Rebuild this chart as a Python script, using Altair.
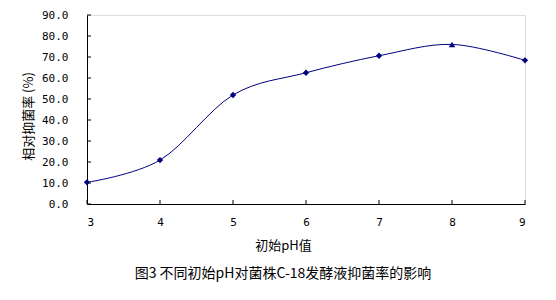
import altair as alt
import pandas as pd

ph = [3, 4, 5, 6, 7, 8, 9]
rate = [10.3, 20.9, 51.9, 62.5, 70.6, 76.0, 68.4]
y_ticks = [0, 10, 20, 30, 40, 50, 60, 70, 80, 90]
x_ticks = [3, 4, 5, 6, 7, 8, 9]

df = pd.DataFrame({"pH": ph, "rate": rate})
ydf = pd.DataFrame({"v": y_ticks})
xdf = pd.DataFrame({"v": x_ticks})

W, H = 438, 189
COLOR = "#000080"
CJK = "Noto Sans CJK SC"
NUM = "DejaVu Sans Mono"

xscale = alt.Scale(domain=[3, 9], nice=False, zero=False)
yscale = alt.Scale(domain=[0, 90], nice=False)

xaxis = alt.Axis(values=x_ticks, format="d", tickSize=0, labelPadding=12,
                 labelFont=NUM, labelFontSize=11, labelColor="black",
                 labelOverlap=False,
                 domainColor="black", grid=False,
                 title="初始pH值", titleFont=CJK, titleFontSize=13,
                 titleFontWeight="normal", titleColor="black",
                 titleX=196, titleY=41, titleBaseline="middle")
yaxis = alt.Axis(values=y_ticks, format=".1f", tickSize=0, labelPadding=19,
                 labelFont=NUM, labelFontSize=11, labelColor="black",
                 labelOverlap=False,
                 domainColor="black", grid=False,
                 title="相对抑菌率 (%)", titleFont=CJK, titleFontSize=13,
                 titleFontWeight="normal", titleColor="black",
                 titleX=-59, titleY=101, titleBaseline="middle")

line = alt.Chart(df).mark_line(interpolate="cardinal", color=COLOR, strokeWidth=1).encode(
    x=alt.X("pH:Q", scale=xscale, axis=xaxis),
    y=alt.Y("rate:Q", scale=yscale, axis=yaxis),
)
pts = alt.Chart(df).mark_point(filled=True, color=COLOR, opacity=1, size=40).encode(
    x=alt.X("pH:Q", scale=xscale, axis=xaxis),
    y=alt.Y("rate:Q", scale=yscale, axis=yaxis),
    shape=alt.condition("datum.pH == 8", alt.value("triangle-up"), alt.value("diamond")),
)
yt = alt.Chart(ydf).mark_rule(color="black", strokeWidth=1).encode(
    y=alt.Y("v:Q", scale=yscale, axis=yaxis), x=alt.value(0), x2=alt.value(4)
)
xt = alt.Chart(xdf).mark_rule(color="black", strokeWidth=1).encode(
    x=alt.X("v:Q", scale=xscale, axis=xaxis), y=alt.value(H), y2=alt.value(H - 4)
)

chart = alt.layer(line, yt, xt, pts).properties(
    width=W, height=H,
    title=alt.TitleParams("图3 不同初始pH对菌株C-18发酵液抑菌率的影响", orient="bottom",
                          anchor="middle", dx=-23, offset=15, font=CJK, fontSize=14,
                          fontWeight="normal", color="black"),
    autosize=alt.AutoSizeParams(type="none"),
    padding={"left": 87, "top": 15, "right": 31, "bottom": 96},
).configure_view(stroke=None).configure(background="white")

chart.save("out.html", embed_options={"renderer": "svg", "actions": False})
